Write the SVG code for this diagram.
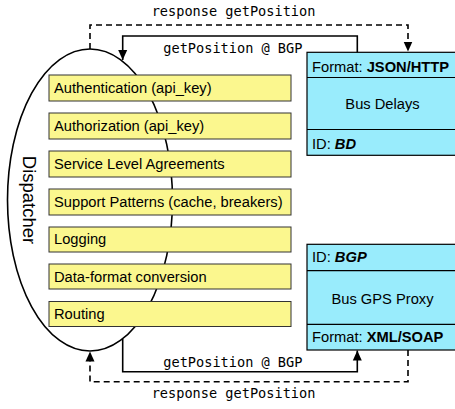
<svg xmlns="http://www.w3.org/2000/svg" width="455" height="409" viewBox="0 0 455 409">
<style>
.yb{fill:#FBF78E;stroke:#333;stroke-width:1}
.bb{fill:#99ECFC;stroke:#000;stroke-width:1.2}
.t{font-family:"Liberation Sans",Arial,sans-serif;font-size:14.7px;fill:#000}
.b{font-weight:bold}
.m{font-family:"DejaVu Sans Mono","Liberation Mono",monospace;font-size:13.6px;fill:#000}
.ln{fill:none;stroke:#000;stroke-width:1.6}
.ds{stroke-dasharray:6,4}
</style>
<defs>
<marker id="ah" viewBox="0 0 10 10" refX="10" refY="5" markerWidth="10" markerHeight="10" markerUnits="userSpaceOnUse" orient="auto">
<path d="M0,0.5 L10,5 L0,9.5 Z" fill="#000"/>
</marker>
</defs>
<rect width="455" height="409" fill="#fff"/>
<g id="dispatcher">
<ellipse cx="90" cy="200" rx="82.5" ry="151" fill="#fff" stroke="#000" stroke-width="1.6"/>
<text class="t" transform="translate(23,200) rotate(90)" text-anchor="middle" style="font-size:18.5px">Dispatcher</text>
</g>
<g id="authentication"><rect class="yb" x="49" y="75" width="242" height="26"/><text class="t" x="54" y="93">Authentication (api_key)</text></g>
<g id="authorization"><rect class="yb" x="49" y="113" width="242" height="26"/><text class="t" x="54" y="131">Authorization (api_key)</text></g>
<g id="sla"><rect class="yb" x="49" y="151" width="242" height="26"/><text class="t" x="54" y="169">Service Level Agreements</text></g>
<g id="support"><rect class="yb" x="49" y="189" width="242" height="26"/><text class="t" x="54" y="207">Support Patterns (cache, breakers)</text></g>
<g id="logging"><rect class="yb" x="49" y="227" width="242" height="25"/><text class="t" x="54" y="244">Logging</text></g>
<g id="dataformat"><rect class="yb" x="49" y="264" width="242" height="25"/><text class="t" x="54" y="281.5">Data-format conversion</text></g>
<g id="routing"><rect class="yb" x="49" y="301.5" width="242" height="25"/><text class="t" x="54" y="319">Routing</text></g>
<g id="busdelays">
<rect class="bb" x="307" y="52.3" width="152" height="103"/>
<line x1="307" y1="77.5" x2="459" y2="77.5" stroke="#000" stroke-width="1.2"/>
<line x1="307" y1="129.5" x2="459" y2="129.5" stroke="#000" stroke-width="1.2"/>
<text class="t" x="312" y="72">Format: <tspan class="b">JSON/HTTP</tspan></text>
<text class="t" x="382.5" y="108.5" text-anchor="middle">Bus Delays</text>
<text class="t" x="312" y="148.5">ID: <tspan class="b" font-style="italic">BD</tspan></text>
</g>
<g id="busgps">
<rect class="bb" x="307" y="244.3" width="152" height="105.7"/>
<line x1="307" y1="270.7" x2="459" y2="270.7" stroke="#000" stroke-width="1.2"/>
<line x1="307" y1="324.3" x2="459" y2="324.3" stroke="#000" stroke-width="1.2"/>
<text class="t" x="312" y="262">ID: <tspan class="b" font-style="italic">BGP</tspan></text>
<text class="t" x="382.5" y="303.5" text-anchor="middle">Bus GPS Proxy</text>
<text class="t" x="312" y="342">Format: <tspan class="b">XML/SOAP</tspan></text>
</g>
<g id="connectors">
<path class="ln ds" d="M90,49 V25 H408 V51.5" marker-end="url(#ah)"/>
<path class="ln" d="M357.3,52.3 V36 H122.7 V60" marker-end="url(#ah)"/>
<path class="ln" d="M122.7,339 V371.7 H357.3 V350.5" marker-end="url(#ah)"/>
<path class="ln ds" d="M408,350 V381.7 H90 V351.5" marker-end="url(#ah)"/>
<text class="m" x="151.7" y="16">response getPosition</text>
<text class="m" x="163.3" y="53.3">getPosition @ BGP</text>
<text class="m" x="163.3" y="366.7">getPosition @ BGP</text>
<text class="m" x="151.7" y="398.3">response getPosition</text>
</g>
</svg>
